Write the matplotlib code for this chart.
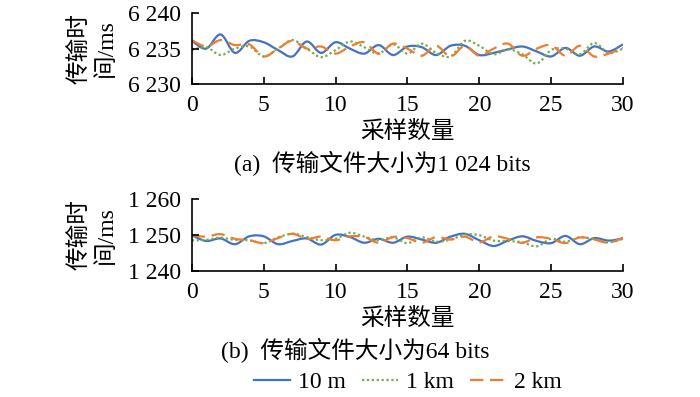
import numpy as np
import matplotlib
matplotlib.use("Agg")
import matplotlib.pyplot as plt
from matplotlib.path import Path
from matplotlib.patches import PathPatch
from matplotlib.lines import Line2D
from matplotlib.ticker import FuncFormatter

plt.rcParams['font.family'] = ['Liberation Serif', 'Noto Sans CJK SC']
plt.rcParams['font.size'] = 17

# sample index 0..30
samples = list(range(31))

# (a) 1 024 bits, transfer time in ms
top_10m = [6236.1, 6235.0, 6237.0, 6234.4, 6236.1, 6235.9, 6234.8, 6233.9, 6236.0, 6234.4,
           6235.9, 6235.0, 6234.3, 6235.5, 6234.1, 6235.3, 6235.2, 6234.1, 6235.4, 6235.4,
           6234.1, 6234.4, 6234.9, 6235.3, 6234.6, 6233.9, 6235.1, 6234.0, 6235.3, 6234.6,
           6235.6]
top_1km = [6234.8, 6235.2, 6234.1, 6235.0, 6235.3, 6233.9, 6235.0, 6236.2, 6235.0, 6233.8,
           6234.8, 6236.0, 6235.2, 6234.3, 6235.6, 6234.3, 6235.7, 6234.4, 6233.9, 6236.1,
           6235.4, 6234.2, 6234.9, 6234.2, 6232.9, 6234.8, 6235.0, 6234.2, 6235.8, 6234.4,
           6235.0]
top_2km = [6236.2, 6235.3, 6236.2, 6235.5, 6235.6, 6233.9, 6235.0, 6236.1, 6235.0, 6235.3,
           6234.3, 6235.3, 6235.9, 6234.3, 6235.7, 6235.0, 6234.0, 6235.4, 6233.9, 6235.4,
           6234.0, 6235.0, 6235.7, 6234.0, 6235.0, 6235.5, 6234.0, 6235.4, 6233.9, 6234.3,
           6235.1]

# (b) 64 bits
bot_10m = [1250.0, 1248.4, 1249.1, 1247.5, 1249.7, 1249.7, 1247.5, 1248.4, 1249.1, 1247.4,
           1250.1, 1249.5, 1247.9, 1249.0, 1247.9, 1249.6, 1248.8, 1247.9, 1249.6, 1250.4,
           1248.6, 1247.0, 1248.5, 1249.7, 1248.4, 1247.8, 1249.8, 1247.5, 1249.2, 1248.5,
           1249.1]
bot_1km = [1248.6, 1248.7, 1249.3, 1248.7, 1248.6, 1247.8, 1249.4, 1250.4, 1249.5, 1248.6,
           1249.0, 1250.7, 1249.6, 1248.6, 1249.4, 1247.8, 1249.4, 1248.2, 1248.8, 1250.2,
           1250.0, 1248.5, 1248.4, 1248.0, 1246.9, 1249.0, 1248.2, 1249.4, 1248.9, 1248.0,
           1249.0]
bot_2km = [1250.0, 1249.6, 1250.3, 1249.0, 1248.6, 1247.8, 1249.2, 1250.4, 1249.0, 1249.6,
           1248.6, 1249.7, 1249.5, 1247.9, 1249.5, 1249.2, 1247.9, 1249.5, 1248.8, 1249.6,
           1248.0, 1249.7, 1249.0, 1247.9, 1249.4, 1249.0, 1247.8, 1249.4, 1248.8, 1247.9,
           1249.3]

series_names = ['10 m', '1 km', '2 km']
colors = ['#4472C4', '#70AD47', '#ED7D31']
styles = ['-', (0, (1, 1.2)), (0, (6, 3))]
widths = [1.6, 1.6, 1.6]


def smooth_line(ax, x, y, **kw):
    # smoothed line through the samples (bezier, like a spreadsheet "smooth line")
    P = np.column_stack([x, y]).astype(float)
    n = len(P)
    verts = [P[0]]
    codes = [Path.MOVETO]
    for i in range(n - 1):
        p0 = P[i - 1] if i > 0 else P[i]
        p1, p2 = P[i], P[i + 1]
        p3 = P[i + 2] if i + 2 < n else P[i + 1]
        verts += [p1 + (p2 - p0) / 6, p2 - (p3 - p1) / 6, p2]
        codes += [Path.CURVE4] * 3
    ax.add_patch(PathPatch(Path(verts, codes), fill=False, **kw))


def fmt(v, pos):
    return f"{int(round(v)):,}".replace(",", " ")


fig = plt.figure(figsize=(7, 3.97), dpi=100)
ax1 = fig.add_axes([0.274, 0.788, 0.616, 0.179])
ax2 = fig.add_axes([0.274, 0.317, 0.616, 0.181])

panels = [
    (ax1, [top_10m, top_1km, top_2km], (6230, 6240), [6230, 6235, 6240], 0.878),
    (ax2, [bot_10m, bot_1km, bot_2km], (1240, 1260), [1240, 1250, 1260], 0.408),
]

for ax, data, ylim, yticks, yc in panels:
    for vals, c, ls, lw in zip(data, colors, styles, widths):
        smooth_line(ax, samples, vals, edgecolor=c, linestyle=ls, linewidth=lw)
    ax.set_xlim(0, 30)
    ax.set_ylim(*ylim)
    ax.set_xticks(range(0, 31, 5))
    ax.set_yticks(yticks)
    ax.yaxis.set_major_formatter(FuncFormatter(fmt))
    ax.spines['top'].set_visible(False)
    ax.spines['right'].set_visible(False)
    for s in ['left', 'bottom']:
        ax.spines[s].set_linewidth(1.2)
    ax.tick_params(direction='in', length=5, width=1.2, labelsize=17)
    ax.tick_params(axis='y', pad=8)
    ax.tick_params(axis='x', pad=8)
    ax.set_xlabel('采样数量', fontsize=17, labelpad=3)
    fig.text(93 / 700, yc, '传输时\n间/ms', rotation=90, ha='center', va='center',
             multialignment='center', fontsize=17, linespacing=1.25)

fig.text(382 / 700, 1 - 163 / 397, '(a)  传输文件大小为1 024 bits', ha='center', va='center', fontsize=17)
fig.text(355 / 700, 1 - 350 / 397, '(b)  传输文件大小为64 bits', ha='center', va='center', fontsize=17)

handles = [Line2D([], [], color=c, linestyle=ls, linewidth=lw)
           for c, ls, lw in zip(colors, styles, widths)]
fig.legend(handles, series_names, loc='center', bbox_to_anchor=(408 / 700, 1 - 382 / 397),
           ncol=3, frameon=False, fontsize=17, handlelength=1.5, handletextpad=0.35,
           columnspacing=0.7, borderpad=0)

fig.savefig('out.png', dpi=100)
